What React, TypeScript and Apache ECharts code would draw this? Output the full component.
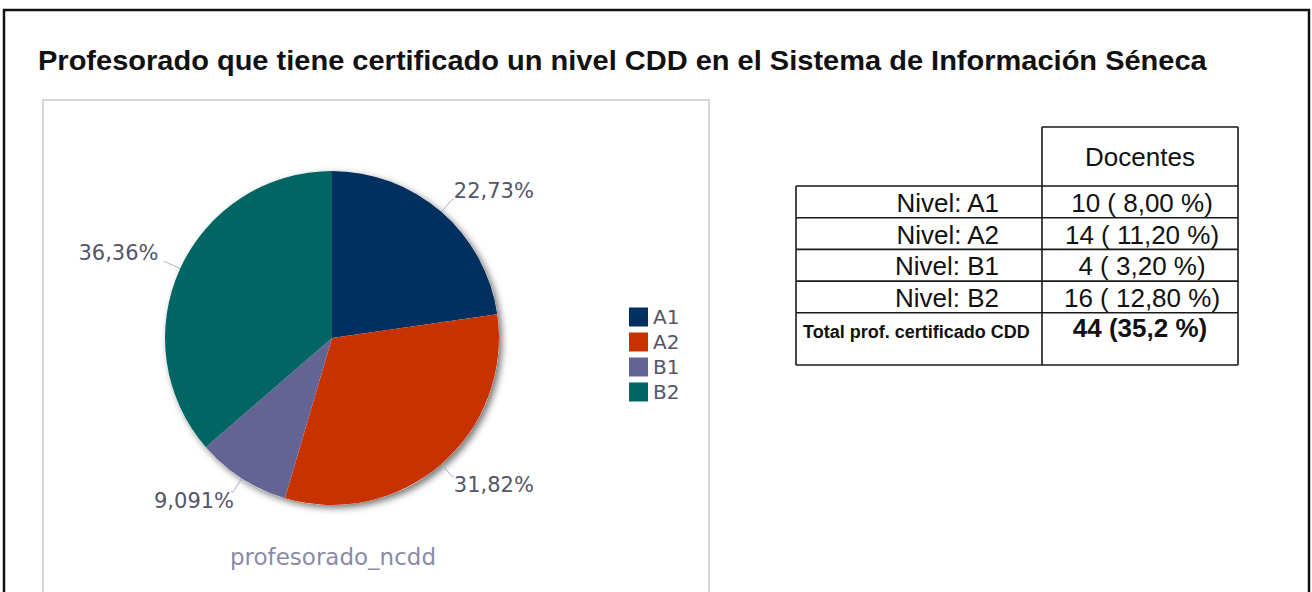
import React, { useEffect, useRef } from 'react';
import * as echarts from 'echarts';

const titleText = 'Profesorado que tiene certificado un nivel CDD en el Sistema de Información Séneca';
const levels = ['A1', 'A2', 'B1', 'B2'];
const docentes = [10, 14, 4, 16];
const pctOfStaff = ['8,00', '11,20', '3,20', '12,80'];
const colors = ['#00305f', '#c83200', '#646494', '#006563'];
const headerLabel = 'Docentes';
const totalLabel = 'Total prof. certificado CDD';
const totalValue = '44 (35,2 %)';
const seriesName = 'profesorado_ncdd';

export default function App() {
  const ref = useRef<HTMLDivElement>(null);
  useEffect(() => {
    if (!ref.current) return;
    const chart = echarts.init(ref.current, null, { renderer: 'svg' });
    const total = docentes.reduce((a, b) => a + b, 0);

    // table geometry
    const tL = 796, tD = 1042, tR = 1238, hTop = 127, rTop = 186, rH = 31.7, bottom = 365;
    const line = (x1: number, y1: number, x2: number, y2: number) => ({
      type: 'line', silent: true,
      shape: { x1, y1, x2, y2 },
      style: { stroke: '#1a1a1a', lineWidth: 1.6 },
    });
    const tableEls: any[] = [];
    tableEls.push(line(tD, hTop, tR, hTop));
    tableEls.push(line(tD, hTop, tD, bottom));
    tableEls.push(line(tR, hTop, tR, bottom));
    tableEls.push(line(tL, rTop, tL, bottom));
    for (let i = 0; i <= levels.length; i++) {
      tableEls.push(line(tL, rTop + i * rH, tR, rTop + i * rH));
    }
    tableEls.push(line(tL, bottom, tR, bottom));
    tableEls.push({
      type: 'text', silent: true, x: (tD + tR) / 2, y: (hTop + rTop) / 2,
      style: { text: headerLabel, font: '26px "Liberation Sans", Arial', fill: '#111', align: 'center', verticalAlign: 'middle' },
    });
    levels.forEach((lv, i) => {
      const cy = rTop + i * rH + rH / 2 + 1;
      tableEls.push({
        type: 'text', silent: true, x: 999, y: cy,
        style: { text: 'Nivel: ' + lv, font: '26px "Liberation Sans", Arial', fill: '#111', align: 'right', verticalAlign: 'middle' },
      });
      tableEls.push({
        type: 'text', silent: true, x: (tD + tR) / 2 + 2, y: cy,
        style: { text: `${docentes[i]} ( ${pctOfStaff[i]} %)`, font: '26px "Liberation Sans", Arial', fill: '#111', align: 'center', verticalAlign: 'middle' },
      });
    });
    const totTop = rTop + levels.length * rH;
    tableEls.push({
      type: 'text', silent: true, x: 803, y: totTop + 19,
      style: { text: totalLabel, font: 'bold 18px "Liberation Sans", Arial', fill: '#111', align: 'left', verticalAlign: 'middle' },
    });
    tableEls.push({
      type: 'text', silent: true, x: (tD + tR) / 2, y: totTop + 15,
      style: { text: totalValue, font: 'bold 26px "Liberation Sans", Arial', fill: '#111', align: 'center', verticalAlign: 'middle' },
    });

    chart.setOption({
      animation: false,
      backgroundColor: '#ffffff',
      color: colors,
      graphic: [
        {
          type: 'rect', silent: true, z: -10,
          shape: { x: 4, y: 10, width: 1305, height: 700 },
          style: { fill: 'none', stroke: '#111', lineWidth: 2.5 },
        },
        {
          type: 'rect', silent: true, z: -9,
          shape: { x: 43, y: 100, width: 666, height: 600 },
          style: { fill: '#fff', stroke: '#d6d6d6', lineWidth: 2 },
        },
        {
          type: 'text', silent: true, x: 38, y: 61, scaleX: 1.075,
          style: { text: titleText, font: 'bold 27px "Liberation Sans", Arial', fill: '#111', verticalAlign: 'middle' },
        },
        {
          type: 'text', silent: true, x: 333, y: 557,
          style: { text: seriesName, font: '23px "DejaVu Sans"', fill: '#8a8aa8', align: 'center', verticalAlign: 'middle' },
        },
        ...tableEls,
      ],
      legend: {
        data: levels,
        orient: 'vertical',
        left: 629,
        top: 307,
        padding: 0,
        itemWidth: 19,
        itemHeight: 19,
        itemGap: 5,
        icon: 'rect',
        textStyle: { fontFamily: 'DejaVu Sans', fontSize: 20, color: '#555568' },
      },
      series: [
        {
          type: 'pie',
          name: 'shadow',
          silent: true,
          center: [332, 338],
          radius: 167,
          z: 1,
          label: { show: false },
          labelLine: { show: false },
          itemStyle: {
            color: '#ffffff',
            shadowBlur: 7,
            shadowOffsetX: 3,
            shadowOffsetY: 3,
            shadowColor: 'rgba(0,0,0,0.55)',
          },
          data: [{ name: '_shadow', value: total }],
        },
        {
          type: 'pie',
          name: seriesName,
          center: [332, 338],
          radius: 167,
          startAngle: 90,
          clockwise: true,
          z: 2,
          itemStyle: { borderWidth: 0 },
          label: {
            show: true,
            position: 'outside',
            fontFamily: 'DejaVu Sans',
            fontSize: 21,
            color: '#555568',
            formatter: (p: any) => ((p.value / total) * 100).toPrecision(4).replace('.', ',') + '%',
          },
          labelLine: {
            show: true,
            length: 16,
            length2: 2,
            lineStyle: { color: '#a9b1c8', width: 1 },
          },
          labelLayout: (params: any) => {
            const lr = params.labelRect;
            const er = params.rect;
            const lc = lr.y + lr.height / 2;
            const ec = er.y + er.height / 2;
            const right = lr.x + lr.width / 2 > er.x + er.width / 2;
            const upper = lc < ec;
            return { dy: upper ? -9 : 9, dx: right ? -5 : upper ? 0 : 8 };
          },
          emphasis: { disabled: true },
          data: levels.map((lv, i) => ({ name: lv, value: docentes[i] })),
        },
      ],
    });
    return () => chart.dispose();
  }, []);
  return (
    <div
      ref={ref}
      style={{ position: 'fixed', left: 0, top: 0, width: 1312, height: 592, background: '#fff' }}
    />
  );
}
